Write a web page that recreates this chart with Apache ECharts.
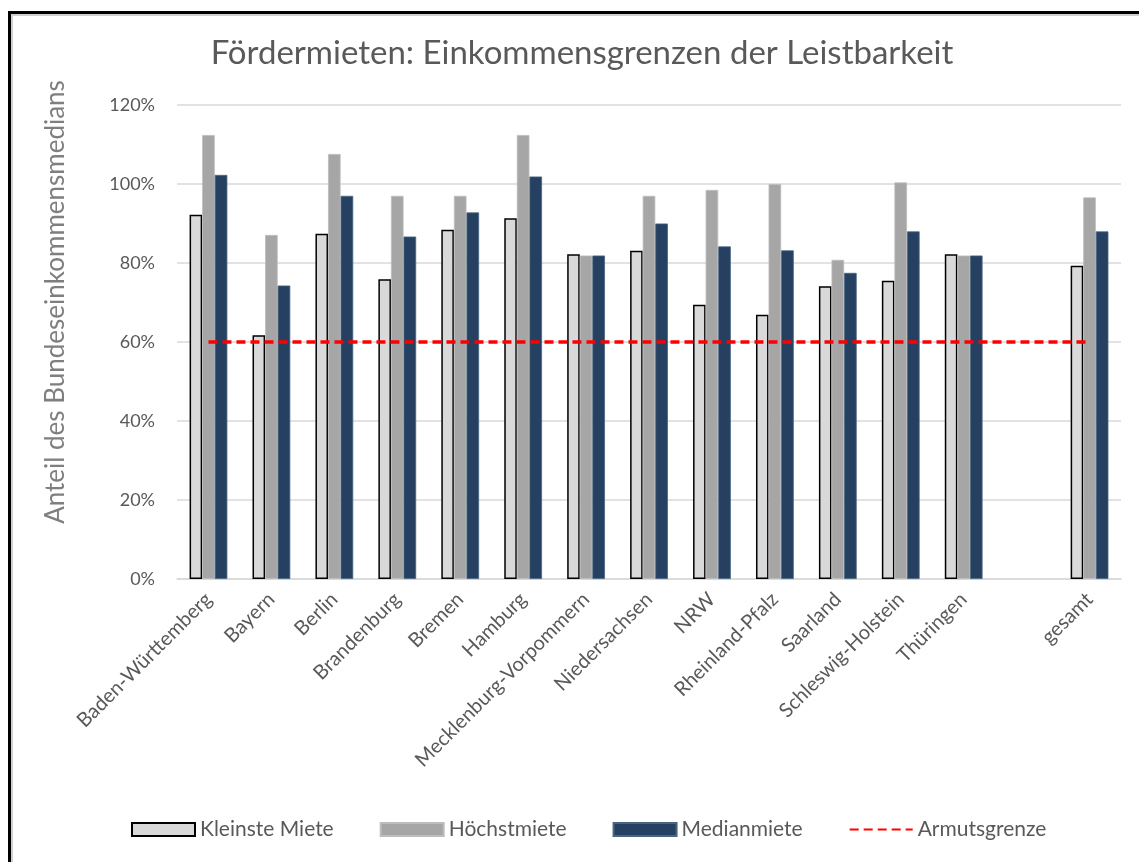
<!DOCTYPE html>
<html>
<head>
<meta charset="utf-8">
<script src="https://cdn.jsdelivr.net/npm/echarts@6/dist/echarts.min.js"></script>
<style>
    html, body {
        margin: 0;
        padding: 0;
        width: 1139px;
        height: 862px;
        overflow: hidden;
        background: #fff;
    }
    .frame {
        position: absolute;
        left: 8px;
        top: 11px;
        width: 2000px;
        height: 2000px;
        border: 3px solid #000;
        box-shadow: inset 2px 2px 0 #d0d0d0;
    }
    #chart {
        position: absolute;
        left: 0;
        top: 0;
        width: 1139px;
        height: 862px;
    }
</style>
</head>
<body>
<div class="frame"></div>
<div id="chart"></div>
<script>
const categories = ['Baden-Württemberg', 'Bayern', 'Berlin', 'Brandenburg', 'Bremen', 'Hamburg',
    'Mecklenburg-Vorpommern', 'Niedersachsen', 'NRW', 'Rheinland-Pfalz', 'Saarland',
    'Schleswig-Holstein', 'Thüringen', '', 'gesamt']
const kleinsteMiete = [92.2, 61.7, 87.4, 75.9, 88.4, 91.3, 82.2, 83.1, 69.4, 66.9, 74.1, 75.5, 82.2, null, 79.3]
const hoechstMiete = [112.4, 87.1, 107.6, 97.0, 97.0, 112.4, 81.9, 97.0, 98.5, 100.0, 80.8, 100.4, 81.9, null, 96.6]
const medianMiete = [102.3, 74.3, 97.0, 86.7, 92.8, 101.9, 81.9, 90.0, 84.2, 83.2, 77.5, 88.0, 81.9, null, 88.0]
const armutsgrenze = [60, 60, 60, 60, 60, 60, 60, 60, 60, 60, 60, 60, 60, 60, 60]
const yTicks = [0, 20, 40, 60, 80, 100, 120]

const font = 'Lato, "Open Sans", sans-serif'
const chart = echarts.init(document.getElementById('chart'))

chart.setOption({
    backgroundColor: 'transparent',
    animation: false,
    textStyle: { fontFamily: font },
    title: {
        text: 'Fördermieten: Einkommensgrenzen der Leistbarkeit',
        left: 577,
        top: 32,
        textAlign: 'center',
        textStyle: {
            color: '#595959',
            fontSize: 33,
            fontWeight: 'normal',
            fontFamily: font,
        },
    },
    legend: {
        bottom: 17,
        left: 126,
        itemWidth: 63,
        itemHeight: 13,
        itemGap: 46,
        textStyle: { color: '#595959', fontSize: 21, fontFamily: font },
        data: [
            { name: 'Kleinste Miete', icon: 'rect' },
            { name: 'Höchstmiete', icon: 'rect' },
            { name: 'Medianmiete', icon: 'rect' },
            { name: 'Armutsgrenze', itemStyle: { opacity: 0 } },
        ],
    },
    grid: {
        left: 177,
        right: 18,
        top: 105,
        bottom: 283,
    },
    xAxis: {
        type: 'category',
        data: categories,
        axisLine: { show: true, lineStyle: { color: '#d9d9d9', width: 1.5 } },
        axisTick: { show: false },
        axisLabel: {
            interval: 0,
            rotate: 45,
            margin: 17,
            color: '#595959',
            fontSize: 20,
            fontFamily: font,
        },
    },
    yAxis: {
        type: 'value',
        min: yTicks[0],
        max: yTicks[yTicks.length - 1],
        interval: 20,
        name: 'Anteil des Bundeseinkommensmedians',
        nameLocation: 'middle',
        nameGap: 108,
        nameTextStyle: { color: '#7f7f7f', fontSize: 26, fontFamily: font, padding: [0, 0, 0, 80] },
        axisLine: { show: false },
        axisTick: { show: false },
        axisLabel: {
            margin: 22,
            color: '#595959',
            fontSize: 18,
            fontFamily: font,
            formatter: '{value}%',
        },
        splitLine: { lineStyle: { color: '#d9d9d9', width: 1.5 } },
    },
    series: [
        {
            name: 'Kleinste Miete',
            type: 'bar',
            barGap: '0%',
            barCategoryGap: '40%',
            itemStyle: { color: '#d9d9d9', borderColor: '#000', borderWidth: 1.5 },
            data: kleinsteMiete,
        },
        {
            name: 'Höchstmiete',
            type: 'bar',
            itemStyle: { color: '#a6a6a6', borderColor: '#bdbdbd', borderWidth: 0.8 },
            data: hoechstMiete,
        },
        {
            name: 'Medianmiete',
            type: 'bar',
            itemStyle: { color: '#254061', borderColor: '#4a6482', borderWidth: 0.8 },
            data: medianMiete,
        },
        {
            name: 'Armutsgrenze',
            type: 'line',
            symbol: 'none',
            itemStyle: { color: '#ff0000' },
            lineStyle: { color: '#ff0000', width: 3.5, type: [9, 5] },
            data: armutsgrenze,
            z: 5,
        },
    ],
})
</script>
</body>
</html>
